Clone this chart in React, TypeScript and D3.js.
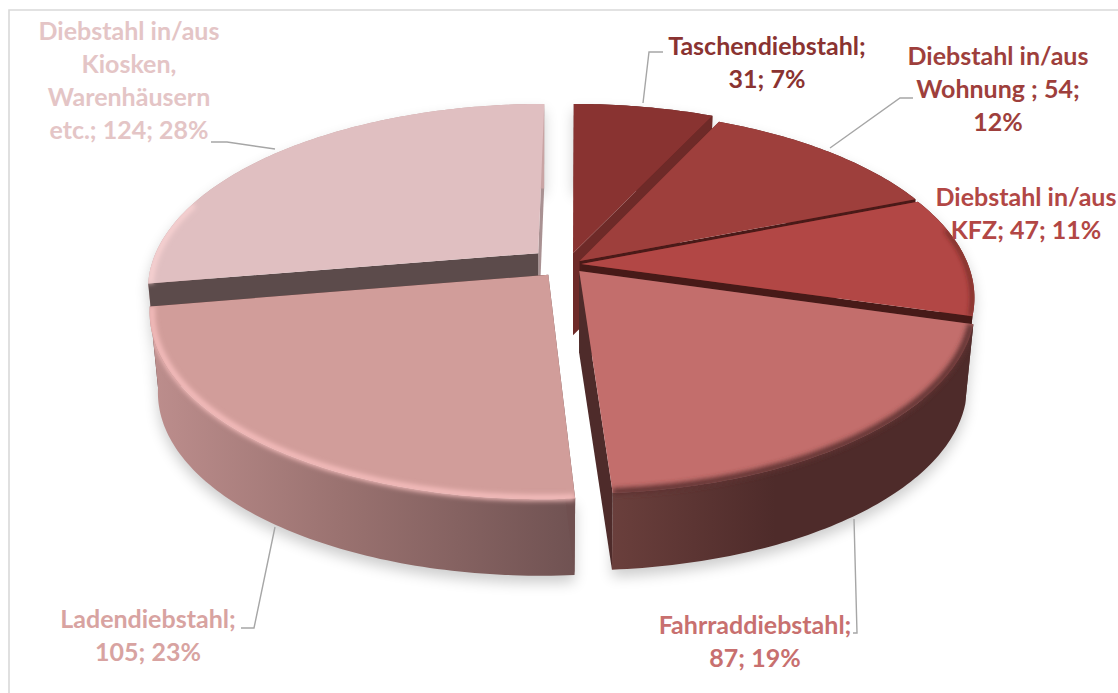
import React from "react";
import * as d3 from "d3";

const categories = ["Taschendiebstahl", "Diebstahl in/aus Wohnung", "Diebstahl in/aus KFZ", "Fahrraddiebstahl", "Ladendiebstahl", "Diebstahl in/aus Kiosken, Warenhäusern etc."];
const values = [31, 54, 47, 87, 105, 124];
const faceColors = ["#893331", "#9e3f3c", "#b24745", "#c36e6c", "#d19d9a", "#e0bfc1"];
const labelColors = ["#8a3331", "#9e3f3c", "#b24745", "#c8706f", "#d8a3a1", "#e4c5c6"];
const labelLines = [
  ["Taschendiebstahl;", "31; 7%"],
  ["Diebstahl in/aus", "Wohnung ; 54;", "12%"],
  ["Diebstahl in/aus", "KFZ; 47; 11%"],
  ["Fahrraddiebstahl;", "87; 19%"],
  ["Ladendiebstahl;", "105; 23%"],
  ["Diebstahl in/aus", "Kiosken,", "Warenhäusern", "etc.; 124; 28%"],
];

// layout and style
const W = 1118, H = 693;
const CX = 578, CY = 262, RX = 386, RY = 179, PERSP = 0.18, DEPTH = 82, BOTTOM_R = 0.98;
const explode: [number, number][] = [[-0.013, 0.05], [0.004, 0.005], [0.008, -0.011], [0.003, -0.05], [-0.076, -0.07], [-0.104, 0.05]];
const cutEndColors = ["#6e2a28", "#4a1a18", "#471a18", "#4e2b2a", "#4e2b2a", "#a99192"];
const cutStartColors = ["#8a3532", "#7a2f2d", "#6a2422", "#4e2b2a", "#705050", "#5c4b4b"];
const wallStops: [string, string, string][] = [
  ["#5c1f1d", "#5c1f1d", "#5c1f1d"], ["#5c1f1d", "#5c1f1d", "#5c1f1d"], ["#5e201e", "#5e201e", "#5e201e"],
  ["#6a3f3c", "#4e2b2a", "#4e2b2a"], ["#bd8e8d", "#9a7270", "#705252"], ["#c9a4a4", "#c9a4a4", "#c9a4a4"],
];
// rim bevel: colour, stroke width, and how far up the ellipse it reaches (cosine limit)
const rimColors = [null, null, "#5e201e", "#5f3330", "#f6bebd", "#f8d2d2"];
const rimWidths = [0, 0, 3, 7, 6, 6];
const rimLimits = [0, 0, 0.2, 1, 1, 0.3];
const labelCenters = [767, 998, 1026, 755, 148, 129];
const labelBaselines = [55, 65, 206, 634, 628, 40];
const LINE_H = 33;
const leaders: ([number, number][] | null)[] = [
  [[643, 103], [649, 52], [663, 52]],
  [[830, 148], [900, 98], [913, 98]],
  null,
  [[854, 519], [857, 633], [853, 633]],
  [[275, 527], [254, 628], [241, 628]],
  [[275, 149], [227, 142], [211, 142]],
];

const arcs = d3.pie<number>().sort(null).startAngle(0).endAngle(2 * Math.PI)(values);

function project(mx: number, my: number): [number, number] {
  const d = 1 + PERSP * my;
  return [CX + (RX * mx) / d, CY - (RY * my) / d];
}
function rimPoint(i: number, a: number, r = 1): [number, number] {
  const [ox, oy] = explode[i];
  return project(ox + r * Math.sin(a), oy + r * Math.cos(a));
}
function angles(i: number): number[] {
  const { startAngle, endAngle } = arcs[i];
  const n = Math.ceil((endAngle - startAngle) * 60);
  return d3.range(n + 1).map((k) => startAngle + ((endAngle - startAngle) * k) / n);
}
const arcPoints = (i: number, r = 1) => angles(i).map((a) => rimPoint(i, a, r));
const bottomPoints = (i: number) => arcPoints(i, BOTTOM_R).map(([x, y]) => [x, y + DEPTH] as [number, number]);
const line = d3.line();
const closed = (pts: [number, number][]) => line(pts) + "Z";
const wallPath = (i: number) => closed([...arcPoints(i), ...bottomPoints(i).reverse()]);

function Slice({ i }: { i: number }) {
  const apex = project(explode[i][0], explode[i][1]);
  const apexLow: [number, number] = [apex[0], apex[1] + DEPTH];
  const outer = arcPoints(i);
  const low = bottomPoints(i);
  const first = outer[0], last = outer[outer.length - 1];
  const cutStart = <path d={closed([apex, first, low[0], apexLow])} fill={cutStartColors[i]} />;
  const cutEnd = <path d={closed([apex, last, low[low.length - 1], apexLow])} fill={cutEndColors[i]} />;
  const startIsFar = first[1] < last[1];
  const rim = rimColors[i];
  const rimPts = angles(i).filter((a) => Math.cos(a) < rimLimits[i]).map((a) => rimPoint(i, a, 0.995));
  return (
    <g>
      {startIsFar ? cutStart : cutEnd}
      <path d={wallPath(i)} fill={`url(#wall${i})`} />
      {startIsFar ? cutEnd : cutStart}
      <path d={closed([apex, ...outer])} fill={faceColors[i]} />
      {rim && (
        <g clipPath={`url(#clip${i})`}>
          <path d={line(rimPts) as string} fill="none" stroke={rim} strokeWidth={rimWidths[i]} filter="url(#soft)" />
        </g>
      )}
    </g>
  );
}

export default function App() {
  const font = "Lato, Carlito, 'Open Sans', sans-serif";
  return (
    <svg width={W} height={H} style={{ position: "absolute", left: 0, top: 0, background: "#fff" }}>
      <defs>
        <filter id="soft" x="-20%" y="-20%" width="140%" height="140%">
          <feGaussianBlur stdDeviation="2.4" />
        </filter>
        <filter id="shadow" x="-10%" y="-10%" width="120%" height="120%">
          <feGaussianBlur stdDeviation="7" />
        </filter>
        {values.map((_, i) => {
          const xs = arcPoints(i).map((p) => p[0]);
          const [x0, x1] = d3.extent(xs) as [number, number];
          const [s0, s1, s2] = wallStops[i];
          return (
            <linearGradient key={i} id={`wall${i}`} gradientUnits="userSpaceOnUse" x1={x0} x2={x1} y1={0} y2={0}>
              <stop offset={0} stopColor={s0} />
              <stop offset={0.45} stopColor={s1} />
              <stop offset={1} stopColor={s2} />
            </linearGradient>
          );
        })}
        {values.map((_, i) => {
          const apex = project(explode[i][0], explode[i][1]);
          return (
            <clipPath key={i} id={`clip${i}`}>
              <path d={closed([apex, ...arcPoints(i)])} />
              <path d={wallPath(i)} />
            </clipPath>
          );
        })}
      </defs>
      <path d={`M9,${H} V10 H${W}`} fill="none" stroke="#d9d9d9" strokeWidth={1.6} />
      <g filter="url(#shadow)" opacity={0.2} transform="translate(0,7)">
        {values.map((_, i) => <path key={i} d={wallPath(i)} fill="#000" />)}
      </g>
      {[5, 0, 1, 2, 3, 4].map((i) => <Slice key={i} i={i} />)}
      <g fill="none" stroke="#a6a6a6" strokeWidth={1.4}>
        {leaders.map((pts, i) => (pts ? <path key={i} d={line(pts) as string} /> : null))}
      </g>
      <g fontFamily={font} fontWeight={700} fontSize={25} textAnchor="middle">
        {labelLines.map((lines, i) =>
          lines.map((t, j) => (
            <text key={`${i}-${j}`} x={labelCenters[i]} y={labelBaselines[i] + j * LINE_H} fill={labelColors[i]}>{t}</text>
          ))
        )}
      </g>
      <desc>{categories.join(", ")}</desc>
    </svg>
  );
}
